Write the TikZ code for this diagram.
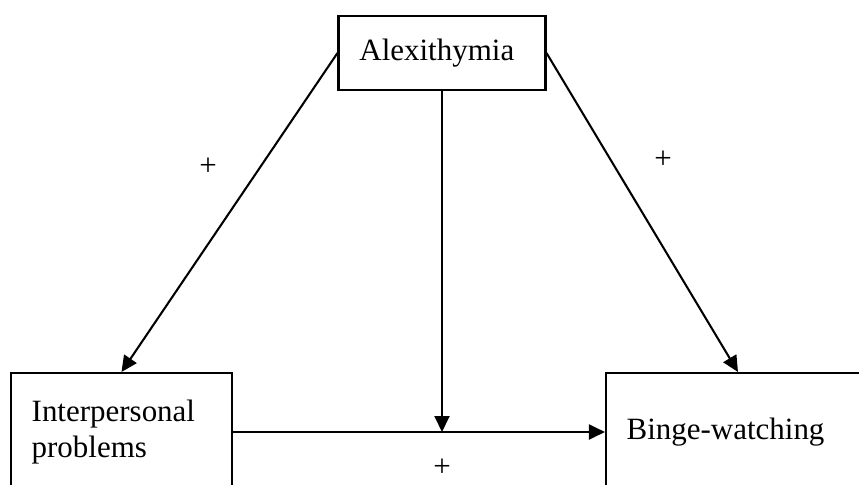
\documentclass[tikz,border=0pt]{standalone}
\usepackage{fontspec}
\setmainfont{Liberation Serif}
\usetikzlibrary{arrows.meta,positioning,calc}
\tikzset{
    varbox/.style={draw, rectangle, line width=0.8pt, inner xsep=8pt, align=left},
    link/.style={line width=0.8pt, -{Triangle[length=6.2pt,width=5.8pt]}}
}

\begin{document}
\begin{tikzpicture}[x=0.3875pt, y=-0.3875pt, font=\fontsize{12}{13.9}\selectfont]
    \useasboundingbox (0,0) rectangle (859,484);
    \clip (0,0) rectangle (859,484);

    % Boxes
    \node [varbox, minimum width=80.2pt, minimum height=28.7pt, text width=64pt] (alex) at (442,53) {Alexithymia};
    \node [varbox, minimum width=85.6pt, minimum height=45.7pt, text width=69.6pt] (inter) at (121.5,432) {Interpersonal\\problems};
    \node [varbox, minimum width=102.3pt, minimum height=45.7pt, text width=86.3pt] (binge) at (738,432) {Binge-watching};

    % Arrows
    \coordinate (join) at (alex.south |- inter.east);
    \draw [link] (alex.west) -- (inter.north);
    \draw [link] (alex.east) -- (binge.north);
    \draw [link] (alex.south) -- (join);
    \draw [link] (inter.east) -- (binge.west);

    % Signs
    \node (signL) at (208,167) {+};
    \node (signR) at (663,160) {+};
    \node (signB) at (442,468) {+};
\end{tikzpicture}
\end{document}
